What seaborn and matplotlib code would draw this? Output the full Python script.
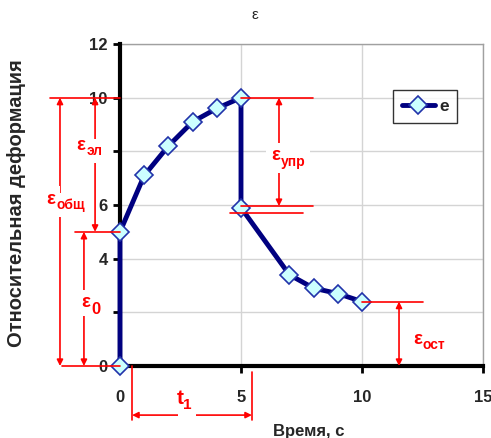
import matplotlib
matplotlib.use("Agg")
import matplotlib.pyplot as plt
import seaborn as sns
import pandas as pd

# ---- data ----
time_s = [0, 0, 1, 2, 3, 4, 5, 5, 7, 8, 9, 10]
strain = [0, 5, 7.1, 8.2, 9.1, 9.6, 10, 5.9, 3.4, 2.9, 2.7, 2.4]
series_name = "e"
x_ticks = [0, 5, 10, 15]
y_ticks = [0, 2, 4, 6, 8, 10, 12]
y_tick_labels = ["0", "", "4", "6", "", "10", "12"]
title = "ε"
x_label = "Время, с"
y_label = "Относительная деформация"

df = pd.DataFrame({"t": time_s, "eps": strain, "s": series_name})

sns.set_style("white")
plt.rcParams["font.family"] = ["Liberation Sans", "DejaVu Sans"]

fig = plt.figure(figsize=(4.91, 4.38), dpi=100)
ax = fig.add_axes([0.2444, 0.1644, 0.7393, 0.7351])

navy = "#000080"
sns.lineplot(data=df, x="t", y="eps", hue="s", palette=[navy], sort=False,
             estimator=None, marker="D", markersize=9, linewidth=3.5,
             markerfacecolor="#ccffff", markeredgecolor="#2233aa",
             markeredgewidth=1.2, ax=ax, zorder=5, clip_on=False)

ax.set_xlim(0, 15)
ax.set_ylim(0, 12)
ax.set_xticks(x_ticks)
ax.set_yticks(y_ticks)
ax.set_yticklabels(y_tick_labels)
ax.grid(True, color="#d4d4d4", linewidth=1)
ax.set_axisbelow(True)
for s in ["top", "right"]:
    ax.spines[s].set_color("#a0a0a0")
    ax.spines[s].set_linewidth(1)
for s in ["left", "bottom"]:
    ax.spines[s].set_color("black")
    ax.spines[s].set_linewidth(3)
    ax.spines[s].set_zorder(4)
ax.tick_params(axis="both", which="both", direction="out", length=5, width=2,
               color="black", labelsize=12, pad=4, left=True, bottom=True)
for lab in ax.get_xticklabels() + ax.get_yticklabels():
    lab.set_fontweight("bold")
ax.tick_params(axis="x", pad=12)

fig.text(255 / 491, 1 - 15 / 438, title, fontsize=11, ha="center", va="center")
ax.set_xlabel(x_label, fontsize=12, fontweight="bold")
ax.xaxis.set_label_coords(0.52, -0.18)
ax.set_ylabel(y_label, fontsize=14.5, fontweight="bold")
ax.yaxis.set_label_coords(-0.259, 0.506)

leg = ax.legend(loc="upper left", bbox_to_anchor=(0.752, 0.857), frameon=True,
                fancybox=False, edgecolor="black", fontsize=12.5,
                handlelength=1.9, borderpad=0.5, handletextpad=0.25,
                borderaxespad=0)
leg.get_frame().set_linewidth(1)
for t in leg.get_texts():
    t.set_fontweight("bold")

# ---- red annotations ----
red = "red"
lkw = dict(color=red, lw=1.2, clip_on=False, zorder=6)

def hline(y, x0, x1):
    ax.plot([x0, x1], [y, y], **lkw)

def vline(x, y0, y1):
    ax.plot([x, x], [y0, y1], **lkw)

def darrow(p0, p1):
    ax.annotate("", xy=p1, xytext=p0, annotation_clip=False,
                arrowprops=dict(arrowstyle="<|-|>", color=red, lw=1.2,
                                mutation_scale=9, shrinkA=0, shrinkB=0),
                zorder=6)

def label(mx, my, sx, sy, main, sub, main_size=13.5, sub_size=10):
    specs = [(mx, my, main, main_size, "center"), (sx, sy, sub, sub_size, "left")]
    # white backgrounds first
    for x, y, s, fs, ha in specs:
        ax.text(x, y, s, color="white", fontsize=fs, fontweight="bold",
                ha=ha, va="center", clip_on=False, zorder=7,
                bbox=dict(facecolor="white", edgecolor="none", pad=3.5))
    # red glyphs on top
    for x, y, s, fs, ha in specs:
        ax.text(x, y, s, color=red, fontsize=fs, fontweight="bold",
                ha=ha, va="center", clip_on=False, zorder=8)

hline(10, -2.89, 0)
hline(5, -1.86, 0)
hline(0, -2.4, 0)
hline(10, 5, 7.98)
hline(5.96, 5, 7.98)
hline(5.7, 4.55, 7.56)
hline(2.4, 10, 12.52)
vline(0.5, 0, -2.0)
vline(5.45, -0.22, -2.0)

darrow((-2.48, 0), (-2.48, 10))
darrow((-1.03, 5), (-1.03, 10))
darrow((-1.49, 0), (-1.49, 5))
darrow((6.57, 5.96), (6.57, 10))
darrow((11.53, 0), (11.53, 2.4))
darrow((0.5, -1.83), (5.45, -1.83))

label(-2.87, 6.2, -2.62, 6.0, "ε", "общ")
label(-1.63, 8.2, -1.38, 8.0, "ε", "эл")
label(-1.42, 2.35, -1.18, 2.1, "ε", "0", sub_size=12)
label(6.43, 7.83, 6.65, 7.62, "ε", "упр")
label(12.29, 1.0, 12.5, 0.8, "ε", "ост")
label(2.48, -1.2, 2.6, -1.45, "t", "1", main_size=15, sub_size=11)

fig.savefig("out.png", dpi=100)
